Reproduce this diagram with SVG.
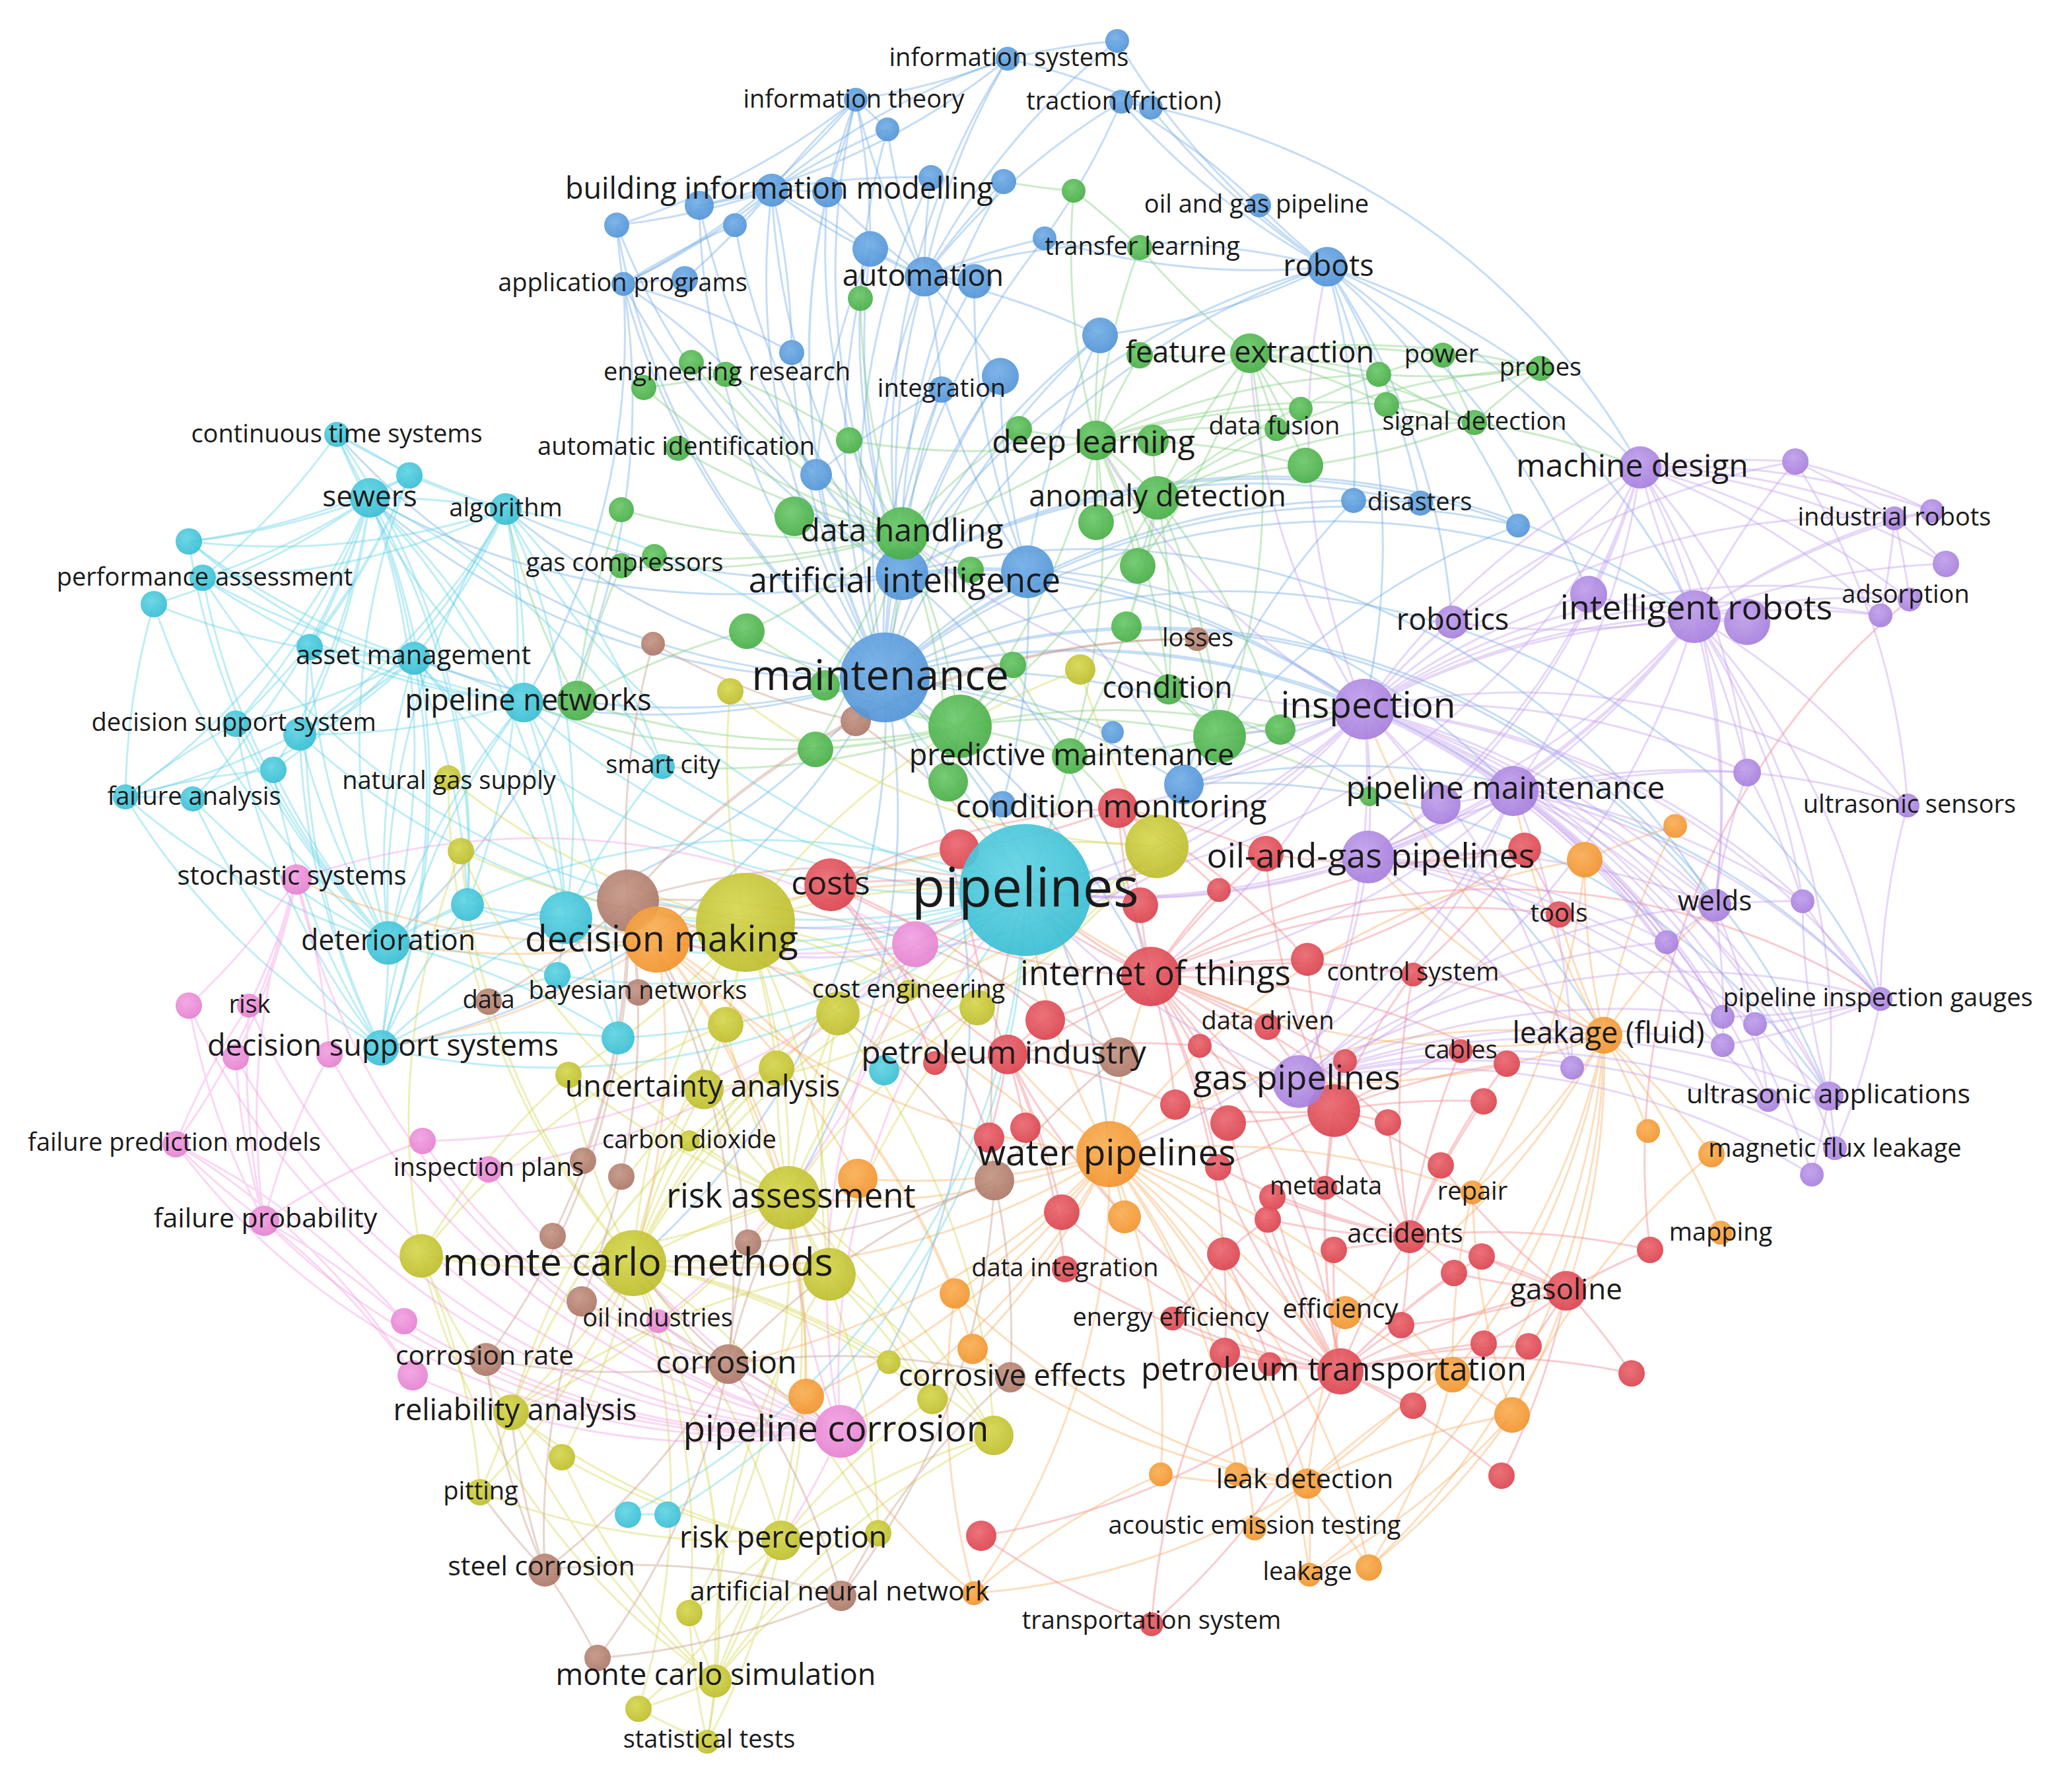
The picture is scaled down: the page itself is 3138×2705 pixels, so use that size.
<svg xmlns="http://www.w3.org/2000/svg" width="3138" height="2705" viewBox="0 0 3138 2705">
<defs>
<radialGradient id="gB" cx=".42" cy=".38" r=".68"><stop offset="0" stop-color="#74aee6"/><stop offset="1" stop-color="#4f92d6"/></radialGradient>
<radialGradient id="gG" cx=".42" cy=".38" r=".68"><stop offset="0" stop-color="#6cc86a"/><stop offset="1" stop-color="#45ac43"/></radialGradient>
<radialGradient id="gC" cx=".42" cy=".38" r=".68"><stop offset="0" stop-color="#62d4e4"/><stop offset="1" stop-color="#36bcd2"/></radialGradient>
<radialGradient id="gY" cx=".42" cy=".38" r=".68"><stop offset="0" stop-color="#d6d650"/><stop offset="1" stop-color="#bcbc2a"/></radialGradient>
<radialGradient id="gR" cx=".42" cy=".38" r=".68"><stop offset="0" stop-color="#ea6870"/><stop offset="1" stop-color="#d9404b"/></radialGradient>
<radialGradient id="gO" cx=".42" cy=".38" r=".68"><stop offset="0" stop-color="#f8b056"/><stop offset="1" stop-color="#f2912a"/></radialGradient>
<radialGradient id="gP" cx=".42" cy=".38" r=".68"><stop offset="0" stop-color="#c0a0ea"/><stop offset="1" stop-color="#a47cdc"/></radialGradient>
<radialGradient id="gN" cx=".42" cy=".38" r=".68"><stop offset="0" stop-color="#c49686"/><stop offset="1" stop-color="#aa7565"/></radialGradient>
<radialGradient id="gK" cx=".42" cy=".38" r=".68"><stop offset="0" stop-color="#f2a2e2"/><stop offset="1" stop-color="#e47ecf"/></radialGradient>
</defs>
<style>
#connectors path{fill:none;stroke-width:3;stroke-opacity:.4}
.eB path{stroke:#6fa9e6}.eG path{stroke:#7ccd78}.eC path{stroke:#5fd2e6}.eY path{stroke:#d4d450}.eR path{stroke:#ef7f86}.eO path{stroke:#f8ac5c}.eP path{stroke:#c09cee}.eN path{stroke:#c49684}.eK path{stroke:#f29be0}
circle{fill-opacity:.92}
.B{fill:url(#gB)}.G{fill:url(#gG)}.C{fill:url(#gC)}.Y{fill:url(#gY)}.R{fill:url(#gR)}.O{fill:url(#gO)}.P{fill:url(#gP)}.N{fill:url(#gN)}.K{fill:url(#gK)}
text{font-family:"Open Sans","Noto Sans","Liberation Sans",sans-serif;fill:#1a1a1a;text-anchor:middle}
</style>
<rect width="3138" height="2705" fill="#ffffff"/>
<g id="connectors">
<g class="eB">
<path d="M1340 1026A1100 1100 0 0 1 1169 288M1340 1026A1100 1100 0 0 1 1253 291M1340 1026A1100 1100 0 0 1 1059 311M1340 1026A1100 1100 0 0 1 944 430M1340 1026A1100 1100 0 0 1 1318 377M1340 1026A1100 1100 0 0 1 1400 419M1340 1026A1100 1100 0 0 1 1476 426M1340 1026A1100 1100 0 0 1 2010 404M1340 1026A1100 1100 0 0 1 1666 508M1340 1026A1100 1100 0 0 1 1199 534M1340 1026A1100 1100 0 0 1 1426 590M1340 1026A1100 1100 0 0 1 1515 570M1340 1026A1100 1100 0 0 1 1236 719M1340 1026A1100 1100 0 0 1 1366 869M1340 1026A1100 1100 0 0 1 1556 866M1340 1026A1100 1100 0 0 1 1793 1188M1340 1026A1100 1100 0 0 1 2050 758M1340 1026A1100 1100 0 0 1 2299 796M1340 1026A1100 1100 0 0 1 1296 151M1340 1026A1100 1100 0 0 1 1410 269M1340 1026A1100 1100 0 0 1 1582 361M1340 1026A1100 1100 0 0 1 934 341M1340 1026A1100 1100 0 0 1 560 754M1340 1026A1100 1100 0 0 1 627 997M1340 1026A1100 1100 0 0 1 793 1064M1340 1026A1100 1100 0 0 1 2066 1074M1340 1026A1100 1100 0 0 1 2292 1198M1340 1026A1100 1100 0 0 1 2566 934M1340 1026A1100 1100 0 0 1 588 1428M1340 1026A1100 1100 0 0 1 577 1587M1340 1026A1100 1100 0 0 1 959 1913M1340 1026A1100 1100 0 0 1 1680 1748M1340 1026A1100 1100 0 0 1 1743 1479M1340 1026A1100 1100 0 0 1 1273 2168M1340 1026A1100 1100 0 0 1 1194 1814M1340 1026A1100 1100 0 0 1 1518 1218M1340 1026A1100 1100 0 0 1 1685 1109M1340 1026A1100 1100 0 0 1 2151 762M1340 1026A1100 1100 0 0 1 510 658M1340 1026A1100 1100 0 0 1 766 771M1340 1026A1100 1100 0 0 1 2848 1513M1340 1026A1100 1100 0 0 1 2770 1660M1340 1026A1100 1100 0 0 1 2429 1568M1340 1026A1100 1100 0 0 1 2597 1371"/>
<path d="M1366 869A1100 1100 0 0 1 1169 288M1366 869A1100 1100 0 0 1 1253 291M1366 869A1100 1100 0 0 1 1400 419M1366 869A1100 1100 0 0 1 1318 377M1366 869A1100 1100 0 0 1 2010 404M1366 869A1100 1100 0 0 1 944 430M1366 869A1100 1100 0 0 1 1059 311M1366 869A1100 1100 0 0 1 1113 341M1366 869A1100 1100 0 0 1 934 341M1366 869A1100 1100 0 0 1 1426 590M1366 869A1100 1100 0 0 1 1515 570M1366 869A1100 1100 0 0 1 1666 508M1366 869A1100 1100 0 0 1 1236 719M1366 869A1100 1100 0 0 1 1556 866M1366 869A1100 1100 0 0 1 1526 89M1366 869A1100 1100 0 0 1 1296 151M1366 869A1100 1100 0 0 1 1344 196M1366 869A1100 1100 0 0 1 1520 275M1366 869A1100 1100 0 0 1 560 754M1366 869A1100 1100 0 0 1 766 771M1366 869A1100 1100 0 0 1 2066 1074M1366 869A1100 1100 0 0 1 2566 934M1366 869A1100 1100 0 0 1 1743 1479M1366 869A1100 1100 0 0 1 2151 762M1366 869A1100 1100 0 0 1 2299 796M1366 869A1100 1100 0 0 1 2597 1371M1366 869A1100 1100 0 0 1 2292 1198"/>
<path d="M1400 419A1100 1100 0 0 1 1169 288M1400 419A1100 1100 0 0 1 1253 291M1400 419A1100 1100 0 0 1 1318 377M1400 419A1100 1100 0 0 1 1476 426M1400 419A1100 1100 0 0 1 2010 404M1400 419A1100 1100 0 0 1 1296 151M1400 419A1100 1100 0 0 1 1344 196M1400 419A1100 1100 0 0 1 1410 269M1400 419A1100 1100 0 0 1 1520 275M1400 419A1100 1100 0 0 1 1526 89M1400 419A1100 1100 0 0 1 1698 154M1400 419A1100 1100 0 0 1 1666 508M1400 419A1100 1100 0 0 1 1426 590M1400 419A1100 1100 0 0 1 1515 570M1400 419A1100 1100 0 0 1 1582 361M1400 419A1100 1100 0 0 1 1692 62"/>
<path d="M1169 288A1100 1100 0 0 1 1253 291M1169 288A1100 1100 0 0 1 1059 311M1169 288A1100 1100 0 0 1 934 341M1169 288A1100 1100 0 0 1 1113 341M1169 288A1100 1100 0 0 1 944 430M1169 288A1100 1100 0 0 1 1037 423M1169 288A1100 1100 0 0 1 1296 151M1169 288A1100 1100 0 0 1 1344 196M1169 288A1100 1100 0 0 1 1526 89M1169 288A1100 1100 0 0 1 1410 269M1169 288A1100 1100 0 0 1 1318 377M1169 288A1100 1100 0 0 1 1199 534"/>
<path d="M2010 404A1100 1100 0 0 1 1907 311M2010 404A1100 1100 0 0 1 1698 154M2010 404A1100 1100 0 0 1 1743 163M2010 404A1100 1100 0 0 1 1692 62M2010 404A1100 1100 0 0 1 1582 361M2010 404A1100 1100 0 0 1 1666 508M2010 404A1100 1100 0 0 1 2484 708M2010 404A1100 1100 0 0 1 2566 934M2010 404A1100 1100 0 0 1 2406 900M2010 404A1100 1100 0 0 1 2199 942M2010 404A1100 1100 0 0 1 2066 1074M2010 404A1100 1100 0 0 1 2299 796M2010 404A1100 1100 0 0 1 2050 758M2010 404A1100 1100 0 0 1 2151 762"/>
<path d="M1526 89A1100 1100 0 0 1 1692 62M1526 89A1100 1100 0 0 1 1743 163M1526 89A1100 1100 0 0 1 1296 151M1526 89A1100 1100 0 0 1 1059 311M1296 151A1100 1100 0 0 1 1344 196M1296 151A1100 1100 0 0 1 934 341M1296 151A1100 1100 0 0 1 944 430M1296 151A1100 1100 0 0 1 1253 291M1296 151A1100 1100 0 0 1 1318 377M1698 154A1100 1100 0 0 1 1743 163M1698 154A1100 1100 0 0 1 1907 311M1698 154A1100 1100 0 0 1 1582 361M1698 154A1100 1100 0 0 1 2484 708"/>
<path d="M1556 866A1100 1100 0 0 1 1666 508M1556 866A1100 1100 0 0 1 1426 590M1556 866A1100 1100 0 0 1 1515 570M1556 866A1100 1100 0 0 1 1476 426M1556 866A1100 1100 0 0 1 1793 1188M1556 866A1100 1100 0 0 1 2066 1074M1556 866A1100 1100 0 0 1 1518 1218M944 430A1100 1100 0 0 1 934 341M944 430A1100 1100 0 0 1 1113 341M944 430A1100 1100 0 0 1 1037 423M944 430A1100 1100 0 0 1 1199 534M944 430A1100 1100 0 0 1 1236 719M944 430A1100 1100 0 0 1 793 1064M944 430A1100 1100 0 0 1 588 1428M1236 719A1100 1100 0 0 1 1426 590M1236 719A1100 1100 0 0 1 1318 377M1793 1188A1100 1100 0 0 1 2066 1074M1793 1188A1100 1100 0 0 1 2050 758M1793 1188A1100 1100 0 0 1 2299 796M1793 1188A1100 1100 0 0 1 2770 1660M1793 1188A1100 1100 0 0 1 2848 1513"/>
</g>
<g class="eG">
<path d="M1660 667A1100 1100 0 0 1 1726 375M1660 667A1100 1100 0 0 1 1893 535M1660 667A1100 1100 0 0 1 1726 538M1660 667A1100 1100 0 0 1 1626 289M1660 667A1100 1100 0 0 1 1977 705M1660 667A1100 1100 0 0 1 1933 650M1660 667A1100 1100 0 0 1 1970 619M1660 667A1100 1100 0 0 1 1746 667M1660 667A1100 1100 0 0 1 1753 754M1660 667A1100 1100 0 0 1 1660 791M1660 667A1100 1100 0 0 1 1723 857M1660 667A1100 1100 0 0 1 1366 808M1660 667A1100 1100 0 0 1 1454 1100M1660 667A1100 1100 0 0 1 1847 1115M1660 667A1100 1100 0 0 1 1620 1145M1660 667A1100 1100 0 0 1 1543 650M1660 667A1100 1100 0 0 1 2100 613M1660 667A1100 1100 0 0 1 2088 567M1660 667A1100 1100 0 0 1 1770 1044M1660 667A1100 1100 0 0 1 1286 667M1660 667A1100 1100 0 0 1 1666 508"/>
<path d="M1753 754A1100 1100 0 0 1 1893 535M1753 754A1100 1100 0 0 1 2233 640M1753 754A1100 1100 0 0 1 1977 705M1753 754A1100 1100 0 0 1 1746 667M1753 754A1100 1100 0 0 1 1723 857M1753 754A1100 1100 0 0 1 1706 949M1753 754A1100 1100 0 0 1 1770 1044M1753 754A1100 1100 0 0 1 1847 1115M1753 754A1100 1100 0 0 1 1939 1105M1753 754A1100 1100 0 0 1 1620 1145M1753 754A1100 1100 0 0 1 1454 1100M1753 754A1100 1100 0 0 1 2333 558M1753 754A1100 1100 0 0 1 2185 538M1753 754A1100 1100 0 0 1 1660 791"/>
<path d="M1893 535A1100 1100 0 0 1 1726 375M1893 535A1100 1100 0 0 1 1726 538M1893 535A1100 1100 0 0 1 2088 567M1893 535A1100 1100 0 0 1 2185 538M1893 535A1100 1100 0 0 1 2333 558M1893 535A1100 1100 0 0 1 2100 613M1893 535A1100 1100 0 0 1 1970 619M1893 535A1100 1100 0 0 1 1933 650M1893 535A1100 1100 0 0 1 1977 705M1893 535A1100 1100 0 0 1 2233 640M1893 535A1100 1100 0 0 1 1723 857M1893 535A1100 1100 0 0 1 1847 1115"/>
<path d="M1366 808A1100 1100 0 0 1 1203 782M1366 808A1100 1100 0 0 1 1286 667M1366 808A1100 1100 0 0 1 1303 452M1366 808A1100 1100 0 0 1 1470 863M1366 808A1100 1100 0 0 1 1131 956M1366 808A1100 1100 0 0 1 1249 1038M1366 808A1100 1100 0 0 1 1454 1100M1366 808A1100 1100 0 0 1 1436 1184M1366 808A1100 1100 0 0 1 1235 1135M1366 808A1100 1100 0 0 1 1027 679M1366 808A1100 1100 0 0 1 941 772M1366 808A1100 1100 0 0 1 941 857M1366 808A1100 1100 0 0 1 991 843M1366 808A1100 1100 0 0 1 975 587M1366 808A1100 1100 0 0 1 1047 549M1366 808A1100 1100 0 0 1 1099 567M1366 808A1100 1100 0 0 1 1543 650M1366 808A1100 1100 0 0 1 1340 1026M1366 808A1100 1100 0 0 1 1534 1007"/>
<path d="M1454 1100A1100 1100 0 0 1 1620 1145M1454 1100A1100 1100 0 0 1 1436 1184M1454 1100A1100 1100 0 0 1 1235 1135M1454 1100A1100 1100 0 0 1 1249 1038M1454 1100A1100 1100 0 0 1 1534 1007M1454 1100A1100 1100 0 0 1 1847 1115M1454 1100A1100 1100 0 0 1 1939 1105M1454 1100A1100 1100 0 0 1 1131 956M1454 1100A1100 1100 0 0 1 874 1061M1454 1100A1100 1100 0 0 1 1003 1161M1454 1100A1100 1100 0 0 1 793 1064"/>
<path d="M2233 640A1100 1100 0 0 1 2088 567M2233 640A1100 1100 0 0 1 2185 538M2233 640A1100 1100 0 0 1 2333 558M2233 640A1100 1100 0 0 1 2100 613M2233 640A1100 1100 0 0 1 1977 705M2233 640A1100 1100 0 0 1 2484 708M2333 558A1100 1100 0 0 1 2185 538M2333 558A1100 1100 0 0 1 2088 567M2333 558A1100 1100 0 0 1 2100 613M1847 1115A1100 1100 0 0 1 1939 1105M1847 1115A1100 1100 0 0 1 1706 949M1847 1115A1100 1100 0 0 1 1770 1044M1847 1115A1100 1100 0 0 1 1620 1145M1847 1115A1100 1100 0 0 1 2074 1206M1847 1115A1100 1100 0 0 1 2066 1074"/>
<path d="M874 1061A1100 1100 0 0 1 941 772M874 1061A1100 1100 0 0 1 941 857M874 1061A1100 1100 0 0 1 1131 956M874 1061A1100 1100 0 0 1 793 1064M874 1061A1100 1100 0 0 1 766 771M1626 289A1100 1100 0 0 1 1726 375M1626 289A1100 1100 0 0 1 1520 275M1099 567A1100 1100 0 0 1 1047 549M1099 567A1100 1100 0 0 1 975 587M1099 567A1100 1100 0 0 1 1286 667M1620 1145A1100 1100 0 0 1 1693 1224M1620 1145A1100 1100 0 0 1 1534 1007M1620 1145A1100 1100 0 0 1 1553 1348"/>
</g>
<g class="eC">
<path d="M560 754A1100 1100 0 0 1 510 658M560 754A1100 1100 0 0 1 620 720M560 754A1100 1100 0 0 1 766 771M560 754A1100 1100 0 0 1 286 820M560 754A1100 1100 0 0 1 307 875M560 754A1100 1100 0 0 1 233 915M560 754A1100 1100 0 0 1 469 980M560 754A1100 1100 0 0 1 627 997M560 754A1100 1100 0 0 1 793 1064M560 754A1100 1100 0 0 1 357 1096M560 754A1100 1100 0 0 1 454 1112M560 754A1100 1100 0 0 1 414 1166M560 754A1100 1100 0 0 1 190 1207M560 754A1100 1100 0 0 1 292 1210M560 754A1100 1100 0 0 1 708 1370M560 754A1100 1100 0 0 1 857 1390M560 754A1100 1100 0 0 1 588 1428M560 754A1100 1100 0 0 1 577 1587M560 754A1100 1100 0 0 1 1003 1161M560 754A1100 1100 0 0 1 1553 1348"/>
<path d="M588 1428A1100 1100 0 0 1 286 820M588 1428A1100 1100 0 0 1 233 915M588 1428A1100 1100 0 0 1 469 980M588 1428A1100 1100 0 0 1 627 997M588 1428A1100 1100 0 0 1 357 1096M588 1428A1100 1100 0 0 1 454 1112M588 1428A1100 1100 0 0 1 414 1166M588 1428A1100 1100 0 0 1 190 1207M588 1428A1100 1100 0 0 1 292 1210M588 1428A1100 1100 0 0 1 708 1370M588 1428A1100 1100 0 0 1 857 1390M588 1428A1100 1100 0 0 1 844 1477M588 1428A1100 1100 0 0 1 577 1587M588 1428A1100 1100 0 0 1 936 1572M588 1428A1100 1100 0 0 1 766 771M588 1428A1100 1100 0 0 1 620 720M588 1428A1100 1100 0 0 1 1553 1348M588 1428A1100 1100 0 0 1 793 1064M588 1428A1100 1100 0 0 1 307 875"/>
<path d="M1553 1348A1100 1100 0 0 1 766 771M1553 1348A1100 1100 0 0 1 627 997M1553 1348A1100 1100 0 0 1 793 1064M1553 1348A1100 1100 0 0 1 1003 1161M1553 1348A1100 1100 0 0 1 708 1370M1553 1348A1100 1100 0 0 1 857 1390M1553 1348A1100 1100 0 0 1 844 1477M1553 1348A1100 1100 0 0 1 577 1587M1553 1348A1100 1100 0 0 1 936 1572M1553 1348A1100 1100 0 0 1 1339 1621M1553 1348A1100 1100 0 0 1 951 2294M1553 1348A1100 1100 0 0 1 1011 2294M1553 1348A1100 1100 0 0 1 454 1112M1553 1348A1100 1100 0 0 1 510 658M1553 1348A1100 1100 0 0 1 307 875"/>
<path d="M766 771A1100 1100 0 0 1 510 658M766 771A1100 1100 0 0 1 620 720M766 771A1100 1100 0 0 1 286 820M766 771A1100 1100 0 0 1 307 875M766 771A1100 1100 0 0 1 627 997M766 771A1100 1100 0 0 1 793 1064M766 771A1100 1100 0 0 1 454 1112M766 771A1100 1100 0 0 1 857 1390M766 771A1100 1100 0 0 1 708 1370M766 771A1100 1100 0 0 1 1003 1161M766 771A1100 1100 0 0 1 414 1166"/>
<path d="M627 997A1100 1100 0 0 1 286 820M627 997A1100 1100 0 0 1 307 875M627 997A1100 1100 0 0 1 233 915M627 997A1100 1100 0 0 1 469 980M627 997A1100 1100 0 0 1 793 1064M627 997A1100 1100 0 0 1 357 1096M627 997A1100 1100 0 0 1 454 1112M627 997A1100 1100 0 0 1 190 1207M627 997A1100 1100 0 0 1 292 1210M627 997A1100 1100 0 0 1 708 1370M627 997A1100 1100 0 0 1 857 1390M627 997A1100 1100 0 0 1 577 1587"/>
<path d="M577 1587A1100 1100 0 0 1 469 980M577 1587A1100 1100 0 0 1 454 1112M577 1587A1100 1100 0 0 1 414 1166M577 1587A1100 1100 0 0 1 292 1210M577 1587A1100 1100 0 0 1 708 1370M577 1587A1100 1100 0 0 1 857 1390M577 1587A1100 1100 0 0 1 844 1477M577 1587A1100 1100 0 0 1 936 1572M577 1587A1100 1100 0 0 1 793 1064M577 1587A1100 1100 0 0 1 190 1207M577 1587A1100 1100 0 0 1 357 1096"/>
<path d="M793 1064A1100 1100 0 0 1 286 820M793 1064A1100 1100 0 0 1 307 875M793 1064A1100 1100 0 0 1 469 980M793 1064A1100 1100 0 0 1 454 1112M793 1064A1100 1100 0 0 1 1003 1161M793 1064A1100 1100 0 0 1 857 1390M793 1064A1100 1100 0 0 1 936 1572M510 658A1100 1100 0 0 1 620 720M510 658A1100 1100 0 0 1 307 875M510 658A1100 1100 0 0 1 708 1370M190 1207A1100 1100 0 0 1 292 1210M190 1207A1100 1100 0 0 1 357 1096M190 1207A1100 1100 0 0 1 414 1166M190 1207A1100 1100 0 0 1 233 915M857 1390A1100 1100 0 0 1 1003 1161M857 1390A1100 1100 0 0 1 844 1477M857 1390A1100 1100 0 0 1 936 1572M857 1390A1100 1100 0 0 1 708 1370M951 2294A1100 1100 0 0 1 1011 2294M620 720A1100 1100 0 0 1 286 820M620 720A1100 1100 0 0 1 469 980M620 720A1100 1100 0 0 1 357 1096"/>
</g>
<g class="eY">
<path d="M959 1913A1100 1100 0 0 1 638 1902M959 1913A1100 1100 0 0 1 1194 1814M959 1913A1100 1100 0 0 1 1256 1930M959 1913A1100 1100 0 0 1 774 2139M959 1913A1100 1100 0 0 1 851 2207M959 1913A1100 1100 0 0 1 727 2260M959 1913A1100 1100 0 0 1 1183 2333M959 1913A1100 1100 0 0 1 1044 2443M959 1913A1100 1100 0 0 1 1083 2546M959 1913A1100 1100 0 0 1 967 2588M959 1913A1100 1100 0 0 1 1071 2638M959 1913A1100 1100 0 0 1 1066 1650M959 1913A1100 1100 0 0 1 1176 1618M959 1913A1100 1100 0 0 1 1099 1552M959 1913A1100 1100 0 0 1 1269 1535M959 1913A1100 1100 0 0 1 1129 1397M959 1913A1100 1100 0 0 1 861 1628M959 1913A1100 1100 0 0 1 1412 2119M959 1913A1100 1100 0 0 1 1505 2174M959 1913A1100 1100 0 0 1 1330 2322M959 1913A1100 1100 0 0 1 1346 2063M959 1913A1100 1100 0 0 1 1044 1728M959 1913A1100 1100 0 0 1 1376 1500M959 1913A1100 1100 0 0 1 698 1289M959 1913A1100 1100 0 0 1 679 1178M959 1913A1100 1100 0 0 1 1553 1348"/>
<path d="M1129 1397A1100 1100 0 0 1 679 1178M1129 1397A1100 1100 0 0 1 698 1289M1129 1397A1100 1100 0 0 1 1106 1047M1129 1397A1100 1100 0 0 1 1269 1535M1129 1397A1100 1100 0 0 1 1480 1526M1129 1397A1100 1100 0 0 1 1099 1552M1129 1397A1100 1100 0 0 1 1176 1618M1129 1397A1100 1100 0 0 1 861 1628M1129 1397A1100 1100 0 0 1 1066 1650M1129 1397A1100 1100 0 0 1 1194 1814M1129 1397A1100 1100 0 0 1 1752 1282M1129 1397A1100 1100 0 0 1 1636 1014M1129 1397A1100 1100 0 0 1 1553 1348M1129 1397A1100 1100 0 0 1 1376 1500M1129 1397A1100 1100 0 0 1 1256 1930M1129 1397A1100 1100 0 0 1 1505 2174"/>
<path d="M1194 1814A1100 1100 0 0 1 1269 1535M1194 1814A1100 1100 0 0 1 1099 1552M1194 1814A1100 1100 0 0 1 1176 1618M1194 1814A1100 1100 0 0 1 1066 1650M1194 1814A1100 1100 0 0 1 1044 1728M1194 1814A1100 1100 0 0 1 638 1902M1194 1814A1100 1100 0 0 1 1256 1930M1194 1814A1100 1100 0 0 1 1412 2119M1194 1814A1100 1100 0 0 1 1505 2174M1194 1814A1100 1100 0 0 1 774 2139M1194 1814A1100 1100 0 0 1 1183 2333M1194 1814A1100 1100 0 0 1 1330 2322M1194 1814A1100 1100 0 0 1 1044 2443M1194 1814A1100 1100 0 0 1 1083 2546M1194 1814A1100 1100 0 0 1 861 1628M1194 1814A1100 1100 0 0 1 1480 1526M1194 1814A1100 1100 0 0 1 698 1289M1194 1814A1100 1100 0 0 1 1553 1348"/>
<path d="M1083 2546A1100 1100 0 0 1 1044 2443M1083 2546A1100 1100 0 0 1 967 2588M1083 2546A1100 1100 0 0 1 1071 2638M1083 2546A1100 1100 0 0 1 1183 2333M1083 2546A1100 1100 0 0 1 1330 2322M1083 2546A1100 1100 0 0 1 774 2139M1083 2546A1100 1100 0 0 1 851 2207M1083 2546A1100 1100 0 0 1 1505 2174M1083 2546A1100 1100 0 0 1 1256 1930M1083 2546A1100 1100 0 0 1 638 1902M1183 2333A1100 1100 0 0 1 1330 2322M1183 2333A1100 1100 0 0 1 1044 2443M1183 2333A1100 1100 0 0 1 967 2588M1183 2333A1100 1100 0 0 1 1071 2638M1183 2333A1100 1100 0 0 1 774 2139M1183 2333A1100 1100 0 0 1 1412 2119M1183 2333A1100 1100 0 0 1 1505 2174M1183 2333A1100 1100 0 0 1 851 2207M1183 2333A1100 1100 0 0 1 727 2260"/>
<path d="M1752 1282A1100 1100 0 0 1 1636 1014M1752 1282A1100 1100 0 0 1 1480 1526M1752 1282A1100 1100 0 0 1 1106 1047M1752 1282A1100 1100 0 0 1 1376 1500M1752 1282A1100 1100 0 0 1 1066 1650M774 2139A1100 1100 0 0 1 851 2207M774 2139A1100 1100 0 0 1 727 2260M774 2139A1100 1100 0 0 1 638 1902M774 2139A1100 1100 0 0 1 1256 1930M774 2139A1100 1100 0 0 1 1044 1728M774 2139A1100 1100 0 0 1 1066 1650M774 2139A1100 1100 0 0 1 1176 1618M638 1902A1100 1100 0 0 1 727 2260M638 1902A1100 1100 0 0 1 861 1628M638 1902A1100 1100 0 0 1 1099 1552M638 1902A1100 1100 0 0 1 698 1289M1071 2638A1100 1100 0 0 1 967 2588M1071 2638A1100 1100 0 0 1 1044 2443M1256 1930A1100 1100 0 0 1 1412 2119M1256 1930A1100 1100 0 0 1 1505 2174M1256 1930A1100 1100 0 0 1 1269 1535M1256 1930A1100 1100 0 0 1 1480 1526"/>
</g>
<g class="eR">
<path d="M1743 1479A1100 1100 0 0 1 1693 1224M1743 1479A1100 1100 0 0 1 1917 1293M1743 1479A1100 1100 0 0 1 1846 1348M1743 1479A1100 1100 0 0 1 1727 1371M1743 1479A1100 1100 0 0 1 1980 1453M1743 1479A1100 1100 0 0 1 2140 1476M1743 1479A1100 1100 0 0 1 1583 1545M1743 1479A1100 1100 0 0 1 1920 1555M1743 1479A1100 1100 0 0 1 1817 1584M1743 1479A1100 1100 0 0 1 1526 1597M1743 1479A1100 1100 0 0 1 2037 1607M1743 1479A1100 1100 0 0 1 2020 1682M1743 1479A1100 1100 0 0 1 1780 1673M1743 1479A1100 1100 0 0 1 1860 1701M1743 1479A1100 1100 0 0 1 2102 1700M1743 1479A1100 1100 0 0 1 1845 1768M1743 1479A1100 1100 0 0 1 2282 1611M1743 1479A1100 1100 0 0 1 2007 1799M1743 1479A1100 1100 0 0 1 1853 1899M1743 1479A1100 1100 0 0 1 2030 2077M1743 1479A1100 1100 0 0 1 2309 1286M1743 1479A1100 1100 0 0 1 2361 1385M1743 1479A1100 1100 0 0 1 1453 1286M1743 1479A1100 1100 0 0 1 1258 1340M1743 1479A1100 1100 0 0 1 1553 1348M1743 1479A1100 1100 0 0 1 2429 1568M1743 1479A1100 1100 0 0 1 2848 1513"/>
<path d="M2030 2077A1100 1100 0 0 1 1853 1899M2030 2077A1100 1100 0 0 1 2020 1893M2030 2077A1100 1100 0 0 1 2135 1873M2030 2077A1100 1100 0 0 1 2244 1903M2030 2077A1100 1100 0 0 1 2202 1928M2030 2077A1100 1100 0 0 1 1776 1997M2030 2077A1100 1100 0 0 1 2122 2007M2030 2077A1100 1100 0 0 1 1855 2049M2030 2077A1100 1100 0 0 1 1923 2066M2030 2077A1100 1100 0 0 1 2247 2035M2030 2077A1100 1100 0 0 1 2315 2039M2030 2077A1100 1100 0 0 1 2140 2129M2030 2077A1100 1100 0 0 1 2274 2235M2030 2077A1100 1100 0 0 1 1486 2326M2030 2077A1100 1100 0 0 1 1744 2460M2030 2077A1100 1100 0 0 1 2020 1682M2030 2077A1100 1100 0 0 1 1860 1701M2030 2077A1100 1100 0 0 1 1845 1768M2030 2077A1100 1100 0 0 1 2007 1799M2030 2077A1100 1100 0 0 1 1927 1813M2030 2077A1100 1100 0 0 1 1920 1847M2030 2077A1100 1100 0 0 1 1613 1922M2030 2077A1100 1100 0 0 1 1608 1836M2030 2077A1100 1100 0 0 1 2471 2080M2030 2077A1100 1100 0 0 1 2372 1955M2030 2077A1100 1100 0 0 1 1526 1597"/>
<path d="M2135 1873A1100 1100 0 0 1 2102 1700M2135 1873A1100 1100 0 0 1 1845 1768M2135 1873A1100 1100 0 0 1 2247 1668M2135 1873A1100 1100 0 0 1 2182 1765M2135 1873A1100 1100 0 0 1 2007 1799M2135 1873A1100 1100 0 0 1 1927 1813M2135 1873A1100 1100 0 0 1 1920 1847M2135 1873A1100 1100 0 0 1 2020 1893M2135 1873A1100 1100 0 0 1 2244 1903M2135 1873A1100 1100 0 0 1 2202 1928M2135 1873A1100 1100 0 0 1 2372 1955M2135 1873A1100 1100 0 0 1 2122 2007M2135 1873A1100 1100 0 0 1 2020 1682M2135 1873A1100 1100 0 0 1 2282 1611M2135 1873A1100 1100 0 0 1 2212 1592M2135 1873A1100 1100 0 0 1 2140 1476M2135 1873A1100 1100 0 0 1 2499 1893"/>
<path d="M2372 1955A1100 1100 0 0 1 2244 1903M2372 1955A1100 1100 0 0 1 2202 1928M2372 1955A1100 1100 0 0 1 2499 1893M2372 1955A1100 1100 0 0 1 2247 2035M2372 1955A1100 1100 0 0 1 2315 2039M2372 1955A1100 1100 0 0 1 2471 2080M2372 1955A1100 1100 0 0 1 2274 2235M2372 1955A1100 1100 0 0 1 2122 2007M2372 1955A1100 1100 0 0 1 2182 1765M2499 1893A1100 1100 0 0 1 2892 908"/>
<path d="M2020 1682A1100 1100 0 0 1 1920 1555M2020 1682A1100 1100 0 0 1 1817 1584M2020 1682A1100 1100 0 0 1 2037 1607M2020 1682A1100 1100 0 0 1 1780 1673M2020 1682A1100 1100 0 0 1 1860 1701M2020 1682A1100 1100 0 0 1 2102 1700M2020 1682A1100 1100 0 0 1 2212 1592M2020 1682A1100 1100 0 0 1 2282 1611M2020 1682A1100 1100 0 0 1 2247 1668M2020 1682A1100 1100 0 0 1 2182 1765M2020 1682A1100 1100 0 0 1 2007 1799M2020 1682A1100 1100 0 0 1 2140 1476M2020 1682A1100 1100 0 0 1 1980 1453M2020 1682A1100 1100 0 0 1 1917 1293M2020 1682A1100 1100 0 0 1 1845 1768"/>
<path d="M1526 1597A1100 1100 0 0 1 1583 1545M1526 1597A1100 1100 0 0 1 1416 1610M1526 1597A1100 1100 0 0 1 1498 1723M1526 1597A1100 1100 0 0 1 1553 1708M1526 1597A1100 1100 0 0 1 1608 1836M1526 1597A1100 1100 0 0 1 1613 1922M1526 1597A1100 1100 0 0 1 1453 1286M1526 1597A1100 1100 0 0 1 1258 1340M1526 1597A1100 1100 0 0 1 1780 1673M1526 1597A1100 1100 0 0 1 1817 1584M1258 1340A1100 1100 0 0 1 1453 1286M1258 1340A1100 1100 0 0 1 1583 1545M1258 1340A1100 1100 0 0 1 1416 1610M1258 1340A1100 1100 0 0 1 1693 1224M1258 1340A1100 1100 0 0 1 1553 1348M1258 1340A1100 1100 0 0 1 1498 1723"/>
<path d="M1693 1224A1100 1100 0 0 1 1917 1293M1693 1224A1100 1100 0 0 1 1846 1348M1693 1224A1100 1100 0 0 1 1727 1371M1693 1224A1100 1100 0 0 1 1453 1286M1693 1224A1100 1100 0 0 1 1980 1453M2309 1286A1100 1100 0 0 1 2361 1385M2309 1286A1100 1100 0 0 1 2140 1476M2309 1286A1100 1100 0 0 1 1980 1453M2309 1286A1100 1100 0 0 1 1917 1293M1744 2460A1100 1100 0 0 1 1486 2326M1744 2460A1100 1100 0 0 1 1855 2049M1853 1899A1100 1100 0 0 1 1855 2049M1853 1899A1100 1100 0 0 1 1923 2066M1853 1899A1100 1100 0 0 1 1776 1997M1853 1899A1100 1100 0 0 1 1920 1847"/>
</g>
<g class="eO">
<path d="M1680 1748A1100 1100 0 0 1 1299 1785M1680 1748A1100 1100 0 0 1 1703 1843M1680 1748A1100 1100 0 0 1 1446 1959M1680 1748A1100 1100 0 0 1 1473 2043M1680 1748A1100 1100 0 0 1 2037 1988M1680 1748A1100 1100 0 0 1 1758 2233M1680 1748A1100 1100 0 0 1 1873 2233M1680 1748A1100 1100 0 0 1 1980 2247M1680 1748A1100 1100 0 0 1 1900 2315M1680 1748A1100 1100 0 0 1 2429 1568M1680 1748A1100 1100 0 0 1 2400 1302M1680 1748A1100 1100 0 0 1 2200 2082M1680 1748A1100 1100 0 0 1 995 1423M1680 1748A1100 1100 0 0 1 1221 2115M1680 1748A1100 1100 0 0 1 1475 2413M1680 1748A1100 1100 0 0 1 1983 2385M1680 1748A1100 1100 0 0 1 2073 2374M1680 1748A1100 1100 0 0 1 2230 1806M1680 1748A1100 1100 0 0 1 1743 1479M1680 1748A1100 1100 0 0 1 2030 2077M1680 1748A1100 1100 0 0 1 1194 1814M1680 1748A1100 1100 0 0 1 959 1913M1680 1748A1100 1100 0 0 1 1273 2168M1680 1748A1100 1100 0 0 1 1103 2066M1680 1748A1100 1100 0 0 1 1553 1348M1680 1748A1100 1100 0 0 1 1526 1597"/>
<path d="M1980 2247A1100 1100 0 0 1 1758 2233M1980 2247A1100 1100 0 0 1 1873 2233M1980 2247A1100 1100 0 0 1 1900 2315M1980 2247A1100 1100 0 0 1 1983 2385M1980 2247A1100 1100 0 0 1 2073 2374M1980 2247A1100 1100 0 0 1 2037 1988M1980 2247A1100 1100 0 0 1 2200 2082M1980 2247A1100 1100 0 0 1 2290 2143M1980 2247A1100 1100 0 0 1 1475 2413M1980 2247A1100 1100 0 0 1 1446 1959M1980 2247A1100 1100 0 0 1 1473 2043"/>
<path d="M2429 1568A1100 1100 0 0 1 2400 1302M2429 1568A1100 1100 0 0 1 2537 1251M2429 1568A1100 1100 0 0 1 2496 1713M2429 1568A1100 1100 0 0 1 2592 1748M2429 1568A1100 1100 0 0 1 2230 1806M2429 1568A1100 1100 0 0 1 2200 2082M2429 1568A1100 1100 0 0 1 2290 2143M2429 1568A1100 1100 0 0 1 1983 2385M2429 1568A1100 1100 0 0 1 2073 2374M2429 1568A1100 1100 0 0 1 2606 1867M2429 1568A1100 1100 0 0 1 2037 1988M2429 1568A1100 1100 0 0 1 1980 2247M2429 1568A1100 1100 0 0 1 2066 1074M2429 1568A1100 1100 0 0 1 2292 1198M2429 1568A1100 1100 0 0 1 2072 1298M2429 1568A1100 1100 0 0 1 1967 1638M2429 1568A1100 1100 0 0 1 2361 1385M2429 1568A1100 1100 0 0 1 1553 1348M2429 1568A1100 1100 0 0 1 2597 1371"/>
<path d="M2290 2143A1100 1100 0 0 1 2200 2082M2290 2143A1100 1100 0 0 1 2230 1806M2290 2143A1100 1100 0 0 1 2073 2374M2290 2143A1100 1100 0 0 1 1983 2385M2290 2143A1100 1100 0 0 1 2592 1748M2400 1302A1100 1100 0 0 1 2537 1251M2400 1302A1100 1100 0 0 1 2230 1806M2200 2082A1100 1100 0 0 1 2037 1988M2200 2082A1100 1100 0 0 1 2073 2374M2200 2082A1100 1100 0 0 1 2230 1806M1475 2413A1100 1100 0 0 1 1758 2233M1475 2413A1100 1100 0 0 1 1446 1959M1475 2413A1100 1100 0 0 1 1221 2115"/>
<path d="M995 1423A1100 1100 0 0 1 1299 1785M995 1423A1100 1100 0 0 1 1446 1959M995 1423A1100 1100 0 0 1 1473 2043M995 1423A1100 1100 0 0 1 1221 2115M995 1423A1100 1100 0 0 1 1703 1843M995 1423A1100 1100 0 0 1 1129 1397M995 1423A1100 1100 0 0 1 1194 1814M995 1423A1100 1100 0 0 1 959 1913M995 1423A1100 1100 0 0 1 588 1428M995 1423A1100 1100 0 0 1 577 1587M995 1423A1100 1100 0 0 1 449 1332M995 1423A1100 1100 0 0 1 951 1364M995 1423A1100 1100 0 0 1 1553 1348M995 1423A1100 1100 0 0 1 857 1390"/>
</g>
<g class="eP">
<path d="M2066 1074A1100 1100 0 0 1 2484 708M2066 1074A1100 1100 0 0 1 2719 699M2066 1074A1100 1100 0 0 1 2406 900M2066 1074A1100 1100 0 0 1 2566 934M2066 1074A1100 1100 0 0 1 2646 942M2066 1074A1100 1100 0 0 1 2199 942M2066 1074A1100 1100 0 0 1 2646 1170M2066 1074A1100 1100 0 0 1 2292 1198M2066 1074A1100 1100 0 0 1 2182 1218M2066 1074A1100 1100 0 0 1 2072 1298M2066 1074A1100 1100 0 0 1 2597 1371M2066 1074A1100 1100 0 0 1 2730 1365M2066 1074A1100 1100 0 0 1 2524 1427M2066 1074A1100 1100 0 0 1 2848 1513M2066 1074A1100 1100 0 0 1 2609 1540M2066 1074A1100 1100 0 0 1 2658 1551M2066 1074A1100 1100 0 0 1 2609 1583M2066 1074A1100 1100 0 0 1 2381 1617M2066 1074A1100 1100 0 0 1 2678 1666M2066 1074A1100 1100 0 0 1 2770 1660M2066 1074A1100 1100 0 0 1 2779 1739M2066 1074A1100 1100 0 0 1 2744 1779M2066 1074A1100 1100 0 0 1 1967 1638M2066 1074A1100 1100 0 0 1 2889 1220M2066 1074A1100 1100 0 0 1 2869 785M2066 1074A1100 1100 0 0 1 2848 932M2066 1074A1100 1100 0 0 1 2892 908M2066 1074A1100 1100 0 0 1 1553 1348M2066 1074A1100 1100 0 0 1 1743 1479M2066 1074A1100 1100 0 0 1 1893 535M2066 1074A1100 1100 0 0 1 1660 667M2066 1074A1100 1100 0 0 1 1847 1115M2066 1074A1100 1100 0 0 1 2010 404M2066 1074A1100 1100 0 0 1 1793 1188M2066 1074A1100 1100 0 0 1 1693 1224M2066 1074A1100 1100 0 0 1 995 1423M2066 1074A1100 1100 0 0 1 1129 1397M2066 1074A1100 1100 0 0 1 1366 808"/>
<path d="M2566 934A1100 1100 0 0 1 2484 708M2566 934A1100 1100 0 0 1 2719 699M2566 934A1100 1100 0 0 1 2869 785M2566 934A1100 1100 0 0 1 2926 774M2566 934A1100 1100 0 0 1 2947 854M2566 934A1100 1100 0 0 1 2406 900M2566 934A1100 1100 0 0 1 2646 942M2566 934A1100 1100 0 0 1 2848 932M2566 934A1100 1100 0 0 1 2892 908M2566 934A1100 1100 0 0 1 2199 942M2566 934A1100 1100 0 0 1 2646 1170M2566 934A1100 1100 0 0 1 2889 1220M2566 934A1100 1100 0 0 1 2292 1198M2566 934A1100 1100 0 0 1 2182 1218M2566 934A1100 1100 0 0 1 2072 1298M2566 934A1100 1100 0 0 1 2597 1371M2566 934A1100 1100 0 0 1 2730 1365M2566 934A1100 1100 0 0 1 2848 1513M2566 934A1100 1100 0 0 1 2770 1660M2566 934A1100 1100 0 0 1 1967 1638M2566 934A1100 1100 0 0 1 1553 1348"/>
<path d="M2484 708A1100 1100 0 0 1 2719 699M2484 708A1100 1100 0 0 1 2869 785M2484 708A1100 1100 0 0 1 2926 774M2484 708A1100 1100 0 0 1 2406 900M2484 708A1100 1100 0 0 1 2646 942M2484 708A1100 1100 0 0 1 2848 932M2484 708A1100 1100 0 0 1 2892 908M2484 708A1100 1100 0 0 1 2199 942M2484 708A1100 1100 0 0 1 2646 1170M2484 708A1100 1100 0 0 1 2292 1198M2484 708A1100 1100 0 0 1 2182 1218M2484 708A1100 1100 0 0 1 2072 1298M2484 708A1100 1100 0 0 1 2597 1371M2484 708A1100 1100 0 0 1 2947 854M2484 708A1100 1100 0 0 1 1553 1348"/>
<path d="M2292 1198A1100 1100 0 0 1 2646 1170M2292 1198A1100 1100 0 0 1 2182 1218M2292 1198A1100 1100 0 0 1 2072 1298M2292 1198A1100 1100 0 0 1 2597 1371M2292 1198A1100 1100 0 0 1 2524 1427M2292 1198A1100 1100 0 0 1 2381 1617M2292 1198A1100 1100 0 0 1 1967 1638M2292 1198A1100 1100 0 0 1 2730 1365M2292 1198A1100 1100 0 0 1 2848 1513M2292 1198A1100 1100 0 0 1 2609 1540M2292 1198A1100 1100 0 0 1 2770 1660M2292 1198A1100 1100 0 0 1 2609 1583M2292 1198A1100 1100 0 0 1 1553 1348M2292 1198A1100 1100 0 0 1 1743 1479M2292 1198A1100 1100 0 0 1 1680 1748"/>
<path d="M2072 1298A1100 1100 0 0 1 2182 1218M2072 1298A1100 1100 0 0 1 2597 1371M2072 1298A1100 1100 0 0 1 2524 1427M2072 1298A1100 1100 0 0 1 2609 1540M2072 1298A1100 1100 0 0 1 2658 1551M2072 1298A1100 1100 0 0 1 2381 1617M2072 1298A1100 1100 0 0 1 1967 1638M2072 1298A1100 1100 0 0 1 2646 1170M2072 1298A1100 1100 0 0 1 2678 1666M2072 1298A1100 1100 0 0 1 1553 1348"/>
<path d="M1967 1638A1100 1100 0 0 1 2597 1371M1967 1638A1100 1100 0 0 1 2524 1427M1967 1638A1100 1100 0 0 1 2609 1540M1967 1638A1100 1100 0 0 1 2609 1583M1967 1638A1100 1100 0 0 1 2381 1617M1967 1638A1100 1100 0 0 1 2678 1666M1967 1638A1100 1100 0 0 1 2770 1660M1967 1638A1100 1100 0 0 1 2779 1739M1967 1638A1100 1100 0 0 1 2744 1779M1967 1638A1100 1100 0 0 1 2848 1513M1967 1638A1100 1100 0 0 1 1553 1348"/>
<path d="M2848 1513A1100 1100 0 0 1 2609 1540M2848 1513A1100 1100 0 0 1 2658 1551M2848 1513A1100 1100 0 0 1 2609 1583M2848 1513A1100 1100 0 0 1 2730 1365M2848 1513A1100 1100 0 0 1 2889 1220M2848 1513A1100 1100 0 0 1 2779 1739M2770 1660A1100 1100 0 0 1 2678 1666M2770 1660A1100 1100 0 0 1 2779 1739M2770 1660A1100 1100 0 0 1 2744 1779M2770 1660A1100 1100 0 0 1 2658 1551M2770 1660A1100 1100 0 0 1 2730 1365M2597 1371A1100 1100 0 0 1 2730 1365M2597 1371A1100 1100 0 0 1 2524 1427M2597 1371A1100 1100 0 0 1 2609 1583M2597 1371A1100 1100 0 0 1 2678 1666M2597 1371A1100 1100 0 0 1 2646 1170M2646 1170A1100 1100 0 0 1 2889 1220M2646 1170A1100 1100 0 0 1 2730 1365M2869 785A1100 1100 0 0 1 2926 774M2869 785A1100 1100 0 0 1 2947 854M2869 785A1100 1100 0 0 1 2848 932M2869 785A1100 1100 0 0 1 2892 908M2719 699A1100 1100 0 0 1 2869 785M2719 699A1100 1100 0 0 1 2926 774M2719 699A1100 1100 0 0 1 2889 1220"/>
</g>
<g class="eN">
<path d="M951 1364A1100 1100 0 0 1 989 975M951 1364A1100 1100 0 0 1 1296 1092M951 1364A1100 1100 0 0 1 740 1517M951 1364A1100 1100 0 0 1 967 1503M951 1364A1100 1100 0 0 1 883 1758M951 1364A1100 1100 0 0 1 941 1782M951 1364A1100 1100 0 0 1 837 1872M951 1364A1100 1100 0 0 1 881 1971M951 1364A1100 1100 0 0 1 1133 1882M951 1364A1100 1100 0 0 1 736 2059M951 1364A1100 1100 0 0 1 1103 2066M951 1364A1100 1100 0 0 1 1694 1601M951 1364A1100 1100 0 0 1 1506 1788M951 1364A1100 1100 0 0 1 1129 1397M951 1364A1100 1100 0 0 1 1553 1348M951 1364A1100 1100 0 0 1 1813 968"/>
<path d="M1103 2066A1100 1100 0 0 1 837 1872M1103 2066A1100 1100 0 0 1 881 1971M1103 2066A1100 1100 0 0 1 1133 1882M1103 2066A1100 1100 0 0 1 736 2059M1103 2066A1100 1100 0 0 1 1530 2086M1103 2066A1100 1100 0 0 1 825 2378M1103 2066A1100 1100 0 0 1 905 2511M1103 2066A1100 1100 0 0 1 1274 2417M1103 2066A1100 1100 0 0 1 1506 1788M1103 2066A1100 1100 0 0 1 1273 2168M1103 2066A1100 1100 0 0 1 959 1913M1103 2066A1100 1100 0 0 1 1194 1814M825 2378A1100 1100 0 0 1 736 2059M825 2378A1100 1100 0 0 1 905 2511M825 2378A1100 1100 0 0 1 1274 2417M825 2378A1100 1100 0 0 1 881 1971M825 2378A1100 1100 0 0 1 727 2260M825 2378A1100 1100 0 0 1 774 2139"/>
<path d="M1506 1788A1100 1100 0 0 1 1694 1601M1506 1788A1100 1100 0 0 1 1530 2086M1506 1788A1100 1100 0 0 1 1133 1882M1506 1788A1100 1100 0 0 1 1274 2417M1506 1788A1100 1100 0 0 1 1553 1348M1274 2417A1100 1100 0 0 1 905 2511M1274 2417A1100 1100 0 0 1 1530 2086M1296 1092A1100 1100 0 0 1 989 975M1296 1092A1100 1100 0 0 1 1813 968M1296 1092A1100 1100 0 0 1 1694 1601"/>
</g>
<g class="eK">
<path d="M1273 2168A1100 1100 0 0 1 449 1332M1273 2168A1100 1100 0 0 1 286 1523M1273 2168A1100 1100 0 0 1 377 1523M1273 2168A1100 1100 0 0 1 357 1601M1273 2168A1100 1100 0 0 1 499 1597M1273 2168A1100 1100 0 0 1 266 1733M1273 2168A1100 1100 0 0 1 640 1728M1273 2168A1100 1100 0 0 1 740 1771M1273 2168A1100 1100 0 0 1 400 1849M1273 2168A1100 1100 0 0 1 612 2001M1273 2168A1100 1100 0 0 1 997 2001M1273 2168A1100 1100 0 0 1 625 2083M1273 2168A1100 1100 0 0 1 1386 1430M1273 2168A1100 1100 0 0 1 959 1913M1273 2168A1100 1100 0 0 1 1194 1814M1273 2168A1100 1100 0 0 1 774 2139M1273 2168A1100 1100 0 0 1 736 2059M1273 2168A1100 1100 0 0 1 1553 1348M1273 2168A1100 1100 0 0 1 1183 2333"/>
<path d="M400 1849A1100 1100 0 0 1 449 1332M400 1849A1100 1100 0 0 1 286 1523M400 1849A1100 1100 0 0 1 377 1523M400 1849A1100 1100 0 0 1 357 1601M400 1849A1100 1100 0 0 1 266 1733M400 1849A1100 1100 0 0 1 640 1728M400 1849A1100 1100 0 0 1 612 2001M400 1849A1100 1100 0 0 1 625 2083M400 1849A1100 1100 0 0 1 499 1597M449 1332A1100 1100 0 0 1 286 1523M449 1332A1100 1100 0 0 1 377 1523M449 1332A1100 1100 0 0 1 357 1601M449 1332A1100 1100 0 0 1 499 1597M449 1332A1100 1100 0 0 1 266 1733M449 1332A1100 1100 0 0 1 1386 1430M1386 1430A1100 1100 0 0 1 997 2001M1386 1430A1100 1100 0 0 1 640 1728M1386 1430A1100 1100 0 0 1 740 1771M1386 1430A1100 1100 0 0 1 1553 1348M1386 1430A1100 1100 0 0 1 995 1423M266 1733A1100 1100 0 0 1 377 1523M266 1733A1100 1100 0 0 1 612 2001M266 1733A1100 1100 0 0 1 625 2083"/>
</g>
</g>
<g id="nodes">
<g id="n-y5"><circle class="Y" cx="1129" cy="1397" r="75"/></g>
<g id="n-g36"><circle class="G" cx="1454" cy="1100" r="48"/></g>
<g id="n-y6"><circle class="Y" cx="1752" cy="1282" r="48"/></g>
<g id="n-n4"><circle class="N" cx="951" cy="1364" r="47"/></g>
<g id="n-b30"><circle class="B" cx="1556" cy="866" r="40"/></g>
<g id="n-g37"><circle class="G" cx="1847" cy="1115" r="40"/></g>
<g id="n-c18"><circle class="C" cx="857" cy="1390" r="40"/></g>
<g id="n-y17"><circle class="Y" cx="1256" cy="1930" r="40"/></g>
<g id="n-r18"><circle class="R" cx="2020" cy="1682" r="40"/></g>
<g id="n-p8"><circle class="P" cx="2646" cy="942" r="35"/></g>
<g id="n-k14"><circle class="K" cx="1386" cy="1430" r="35"/></g>
<g id="n-y7"><circle class="Y" cx="1269" cy="1535" r="33"/></g>
<g id="n-y15"><circle class="Y" cx="638" cy="1902" r="33"/></g>
<g id="n-b33"><circle class="B" cx="1793" cy="1188" r="30"/></g>
<g id="n-g25"><circle class="G" cx="1203" cy="782" r="30"/></g>
<g id="n-g41"><circle class="G" cx="1436" cy="1184" r="30"/></g>
<g id="n-g42"><circle class="G" cx="874" cy="1061" r="30"/></g>
<g id="n-y20"><circle class="Y" cx="1505" cy="2174" r="30"/></g>
<g id="n-r2"><circle class="R" cx="1453" cy="1286" r="30"/></g>
<g id="n-r12"><circle class="R" cx="1583" cy="1545" r="30"/></g>
<g id="n-o10"><circle class="O" cx="1299" cy="1785" r="30"/></g>
<g id="n-p16"><circle class="P" cx="2182" cy="1218" r="30"/></g>
<g id="n-n7"><circle class="N" cx="1694" cy="1601" r="30"/></g>
<g id="n-n10"><circle class="N" cx="1506" cy="1788" r="30"/></g>
<g id="n-b25"><circle class="B" cx="1515" cy="570" r="28"/></g>
<g id="n-p6"><circle class="P" cx="2406" cy="900" r="28"/></g>
<g id="n-b16"><circle class="B" cx="1318" cy="377" r="27"/></g>
<g id="n-b22"><circle class="B" cx="1666" cy="508" r="27"/></g>
<g id="n-g16"><circle class="G" cx="1977" cy="705" r="27"/></g>
<g id="n-g24"><circle class="G" cx="1660" cy="791" r="27"/></g>
<g id="n-g27"><circle class="G" cx="1723" cy="857" r="27"/></g>
<g id="n-g31"><circle class="G" cx="1131" cy="956" r="27"/></g>
<g id="n-g39"><circle class="G" cx="1235" cy="1135" r="27"/></g>
<g id="n-y8"><circle class="Y" cx="1480" cy="1526" r="27"/></g>
<g id="n-y9"><circle class="Y" cx="1099" cy="1552" r="27"/></g>
<g id="n-y10"><circle class="Y" cx="1176" cy="1618" r="27"/></g>
<g id="n-r3"><circle class="R" cx="1917" cy="1293" r="27"/></g>
<g id="n-r6"><circle class="R" cx="1727" cy="1371" r="27"/></g>
<g id="n-r20"><circle class="R" cx="1860" cy="1701" r="27"/></g>
<g id="n-r32"><circle class="R" cx="1608" cy="1836" r="27"/></g>
<g id="n-o2"><circle class="O" cx="2400" cy="1302" r="27"/></g>
<g id="n-o15"><circle class="O" cx="1221" cy="2115" r="27"/></g>
<g id="n-o16"><circle class="O" cx="2200" cy="2082" r="27"/></g>
<g id="n-o17"><circle class="O" cx="2290" cy="2143" r="27"/></g>
<g id="n-b18"><circle class="B" cx="1476" cy="426" r="26"/></g>
<g id="n-c12"><circle class="C" cx="454" cy="1112" r="25"/></g>
<g id="n-c17"><circle class="C" cx="708" cy="1370" r="25"/></g>
<g id="n-c22"><circle class="C" cx="936" cy="1572" r="25"/></g>
<g id="n-r8"><circle class="R" cx="1980" cy="1453" r="25"/></g>
<g id="n-r10"><circle class="R" cx="2309" cy="1286" r="25"/></g>
<g id="n-r33"><circle class="R" cx="1853" cy="1899" r="25"/></g>
<g id="n-o11"><circle class="O" cx="1703" cy="1843" r="25"/></g>
<g id="n-b26"><circle class="B" cx="1236" cy="719" r="24"/></g>
<g id="n-g19"><circle class="G" cx="1746" cy="667" r="24"/></g>
<g id="n-b10"><circle class="B" cx="1253" cy="291" r="23"/></g>
<g id="n-g32"><circle class="G" cx="1706" cy="949" r="23"/></g>
<g id="n-g34"><circle class="G" cx="1249" cy="1038" r="23"/></g>
<g id="n-g38"><circle class="G" cx="1939" cy="1105" r="23"/></g>
<g id="n-c23"><circle class="C" cx="1339" cy="1621" r="23"/></g>
<g id="n-y4"><circle class="Y" cx="1636" cy="1014" r="23"/></g>
<g id="n-y19"><circle class="Y" cx="1412" cy="2119" r="23"/></g>
<g id="n-r19"><circle class="R" cx="1780" cy="1673" r="23"/></g>
<g id="n-r22"><circle class="R" cx="1498" cy="1723" r="23"/></g>
<g id="n-r23"><circle class="R" cx="1553" cy="1708" r="23"/></g>
<g id="n-r43"><circle class="R" cx="1855" cy="2049" r="23"/></g>
<g id="n-r51"><circle class="R" cx="1486" cy="2326" r="23"/></g>
<g id="n-o12"><circle class="O" cx="1446" cy="1959" r="23"/></g>
<g id="n-o14"><circle class="O" cx="1473" cy="2043" r="23"/></g>
<g id="n-n2"><circle class="N" cx="1296" cy="1092" r="23"/></g>
<g id="n-n12"><circle class="N" cx="881" cy="1971" r="23"/></g>
<g id="n-k12"><circle class="K" cx="625" cy="2083" r="23"/></g>
<g id="n-b11"><circle class="B" cx="1059" cy="311" r="22"/></g>
<g id="n-p13"><circle class="P" cx="2646" cy="1170" r="21"/></g>
<g id="n-b15"><circle class="B" cx="1037" cy="423" r="20"/></g>
<g id="n-b34"><circle class="B" cx="1518" cy="1218" r="20"/></g>
<g id="n-g4"><circle class="G" cx="1726" cy="538" r="20"/></g>
<g id="n-g17"><circle class="G" cx="1543" cy="650" r="20"/></g>
<g id="n-g20"><circle class="G" cx="1286" cy="667" r="20"/></g>
<g id="n-g30"><circle class="G" cx="1470" cy="863" r="20"/></g>
<g id="n-g33"><circle class="G" cx="1534" cy="1007" r="20"/></g>
<g id="n-c2"><circle class="C" cx="620" cy="720" r="20"/></g>
<g id="n-c5"><circle class="C" cx="286" cy="820" r="20"/></g>
<g id="n-c7"><circle class="C" cx="233" cy="915" r="20"/></g>
<g id="n-c8"><circle class="C" cx="469" cy="980" r="20"/></g>
<g id="n-c13"><circle class="C" cx="414" cy="1166" r="20"/></g>
<g id="n-c20"><circle class="C" cx="844" cy="1477" r="20"/></g>
<g id="n-c24"><circle class="C" cx="951" cy="2294" r="20"/></g>
<g id="n-c25"><circle class="C" cx="1011" cy="2294" r="20"/></g>
<g id="n-y2"><circle class="Y" cx="698" cy="1289" r="20"/></g>
<g id="n-y3"><circle class="Y" cx="1106" cy="1047" r="20"/></g>
<g id="n-y11"><circle class="Y" cx="861" cy="1628" r="20"/></g>
<g id="n-y22"><circle class="Y" cx="851" cy="2207" r="20"/></g>
<g id="n-y25"><circle class="Y" cx="1330" cy="2322" r="20"/></g>
<g id="n-y26"><circle class="Y" cx="1044" cy="2443" r="20"/></g>
<g id="n-y28"><circle class="Y" cx="967" cy="2588" r="20"/></g>
<g id="n-r21"><circle class="R" cx="2102" cy="1700" r="20"/></g>
<g id="n-r24"><circle class="R" cx="1845" cy="1768" r="20"/></g>
<g id="n-r26"><circle class="R" cx="2282" cy="1611" r="20"/></g>
<g id="n-r27"><circle class="R" cx="2247" cy="1668" r="20"/></g>
<g id="n-r28"><circle class="R" cx="2182" cy="1765" r="20"/></g>
<g id="n-r30"><circle class="R" cx="1927" cy="1813" r="20"/></g>
<g id="n-r31"><circle class="R" cx="1920" cy="1847" r="20"/></g>
<g id="n-r34"><circle class="R" cx="2020" cy="1893" r="20"/></g>
<g id="n-r36"><circle class="R" cx="2244" cy="1903" r="20"/></g>
<g id="n-r37"><circle class="R" cx="2202" cy="1928" r="20"/></g>
<g id="n-r38"><circle class="R" cx="2499" cy="1893" r="20"/></g>
<g id="n-r42"><circle class="R" cx="2122" cy="2007" r="20"/></g>
<g id="n-r46"><circle class="R" cx="2247" cy="2035" r="20"/></g>
<g id="n-r47"><circle class="R" cx="2315" cy="2039" r="20"/></g>
<g id="n-r48"><circle class="R" cx="2471" cy="2080" r="20"/></g>
<g id="n-r49"><circle class="R" cx="2140" cy="2129" r="20"/></g>
<g id="n-r50"><circle class="R" cx="2274" cy="2235" r="20"/></g>
<g id="n-o6"><circle class="O" cx="2592" cy="1748" r="20"/></g>
<g id="n-o23"><circle class="O" cx="2073" cy="2374" r="20"/></g>
<g id="n-p2"><circle class="P" cx="2719" cy="699" r="20"/></g>
<g id="n-p5"><circle class="P" cx="2947" cy="854" r="20"/></g>
<g id="n-n8"><circle class="N" cx="883" cy="1758" r="20"/></g>
<g id="n-n9"><circle class="N" cx="941" cy="1782" r="20"/></g>
<g id="n-n11"><circle class="N" cx="837" cy="1872" r="20"/></g>
<g id="n-n13"><circle class="N" cx="1133" cy="1882" r="20"/></g>
<g id="n-n18"><circle class="N" cx="905" cy="2511" r="20"/></g>
<g id="n-k2"><circle class="K" cx="286" cy="1523" r="20"/></g>
<g id="n-k4"><circle class="K" cx="357" cy="1601" r="20"/></g>
<g id="n-k5"><circle class="K" cx="499" cy="1597" r="20"/></g>
<g id="n-k7"><circle class="K" cx="640" cy="1728" r="20"/></g>
<g id="n-k10"><circle class="K" cx="612" cy="2001" r="20"/></g>
<g id="n-b7"><circle class="B" cx="1410" cy="269" r="19"/></g>
<g id="n-b8"><circle class="B" cx="1520" cy="275" r="19"/></g>
<g id="n-b12"><circle class="B" cx="934" cy="341" r="19"/></g>
<g id="n-b23"><circle class="B" cx="1199" cy="534" r="19"/></g>
<g id="n-b27"><circle class="B" cx="2050" cy="758" r="19"/></g>
<g id="n-g3"><circle class="G" cx="1303" cy="452" r="19"/></g>
<g id="n-g6"><circle class="G" cx="1047" cy="549" r="19"/></g>
<g id="n-g8"><circle class="G" cx="975" cy="587" r="19"/></g>
<g id="n-g9"><circle class="G" cx="2088" cy="567" r="19"/></g>
<g id="n-g12"><circle class="G" cx="2100" cy="613" r="19"/></g>
<g id="n-g22"><circle class="G" cx="941" cy="772" r="19"/></g>
<g id="n-g29"><circle class="G" cx="991" cy="843" r="19"/></g>
<g id="n-c15"><circle class="C" cx="190" cy="1207" r="19"/></g>
<g id="n-b1"><circle class="B" cx="1692" cy="62" r="18"/></g>
<g id="n-b4"><circle class="B" cx="1344" cy="196" r="18"/></g>
<g id="n-b6"><circle class="B" cx="1743" cy="163" r="18"/></g>
<g id="n-b13"><circle class="B" cx="1113" cy="341" r="18"/></g>
<g id="n-b19"><circle class="B" cx="1582" cy="361" r="18"/></g>
<g id="n-b28"><circle class="B" cx="2299" cy="796" r="18"/></g>
<g id="n-b32"><circle class="B" cx="1685" cy="1109" r="17"/></g>
<g id="n-g1"><circle class="G" cx="1626" cy="289" r="18"/></g>
<g id="n-g14"><circle class="G" cx="1970" cy="619" r="18"/></g>
<g id="n-g43"><circle class="G" cx="2074" cy="1206" r="15"/></g>
<g id="n-y18"><circle class="Y" cx="1346" cy="2063" r="18"/></g>
<g id="n-r5"><circle class="R" cx="1846" cy="1348" r="18"/></g>
<g id="n-r14"><circle class="R" cx="1817" cy="1584" r="18"/></g>
<g id="n-r16"><circle class="R" cx="1416" cy="1610" r="18"/></g>
<g id="n-r17"><circle class="R" cx="2037" cy="1607" r="18"/></g>
<g id="n-r44"><circle class="R" cx="1923" cy="2066" r="18"/></g>
<g id="n-o3"><circle class="O" cx="2537" cy="1251" r="18"/></g>
<g id="n-o5"><circle class="O" cx="2496" cy="1713" r="18"/></g>
<g id="n-o18"><circle class="O" cx="1758" cy="2233" r="18"/></g>
<g id="n-o19"><circle class="O" cx="1873" cy="2233" r="18"/></g>
<g id="n-o24"><circle class="O" cx="1475" cy="2413" r="18"/></g>
<g id="n-p4"><circle class="P" cx="2926" cy="774" r="18"/></g>
<g id="n-p9"><circle class="P" cx="2848" cy="932" r="18"/></g>
<g id="n-p19"><circle class="P" cx="2730" cy="1365" r="18"/></g>
<g id="n-p20"><circle class="P" cx="2524" cy="1427" r="18"/></g>
<g id="n-p22"><circle class="P" cx="2609" cy="1540" r="18"/></g>
<g id="n-p23"><circle class="P" cx="2658" cy="1551" r="18"/></g>
<g id="n-p24"><circle class="P" cx="2609" cy="1583" r="18"/></g>
<g id="n-p25"><circle class="P" cx="2381" cy="1617" r="18"/></g>
<g id="n-p26"><circle class="P" cx="2678" cy="1666" r="18"/></g>
<g id="n-p29"><circle class="P" cx="2744" cy="1779" r="18"/></g>
<g id="n-n1"><circle class="N" cx="989" cy="975" r="18"/></g>

<g id="pipelines"><circle class="C" cx="1553" cy="1348" r="100"/><text x="1553" y="1373" font-size="82">pipelines</text></g>
<g id="maintenance"><circle class="B" cx="1340" cy="1026" r="68"/><text x="1333" y="1045" font-size="64">maintenance</text></g>
<g id="monte-carlo-methods"><circle class="Y" cx="959" cy="1913" r="50"/><text x="966" y="1932" font-size="59">monte carlo methods</text></g>
<g id="decision-making"><circle class="O" cx="995" cy="1423" r="50"/><text x="1002" y="1441" font-size="55">decision making</text></g>
<g id="water-pipelines"><circle class="O" cx="1680" cy="1748" r="50"/><text x="1676" y="1765" font-size="55">water pipelines</text></g>
<g id="risk-assessment"><circle class="Y" cx="1194" cy="1814" r="48"/><text x="1198" y="1829" font-size="51">risk assessment</text></g>
<g id="inspection"><circle class="P" cx="2066" cy="1074" r="46"/><text x="2072" y="1087" font-size="55">inspection</text></g>
<g id="internet-of-things"><circle class="R" cx="1743" cy="1479" r="45"/><text x="1750" y="1492" font-size="51">internet of things</text></g>
<g id="artificial-intelligence"><circle class="B" cx="1366" cy="869" r="40"/><text x="1370" y="897" font-size="51">artificial intelligence</text></g>
<g id="data-handling"><circle class="G" cx="1366" cy="808" r="40"/><text x="1366" y="820" font-size="48">data handling</text></g>
<g id="pipeline-corrosion"><circle class="K" cx="1273" cy="2168" r="40"/><text x="1266" y="2183" font-size="55">pipeline corrosion</text></g>
<g id="costs"><circle class="R" cx="1258" cy="1340" r="40"/><text x="1258" y="1355" font-size="50">costs</text></g>
<g id="intelligent-robots"><circle class="P" cx="2566" cy="934" r="40"/><text x="2569" y="938" font-size="52">intelligent robots</text></g>
<g id="oil-and-gas-pipelines"><circle class="P" cx="2072" cy="1298" r="40"/><text x="2076" y="1314" font-size="52">oil-and-gas pipelines</text></g>
<g id="gas-pipelines"><circle class="P" cx="1967" cy="1638" r="40"/><text x="1964" y="1650" font-size="52">gas pipelines</text></g>
<g id="pipeline-maintenance"><circle class="P" cx="2292" cy="1198" r="38"/><text x="2280" y="1210" font-size="48">pipeline maintenance</text></g>
<g id="petroleum-transportation"><circle class="R" cx="2030" cy="2077" r="35"/><text x="2020" y="2091" font-size="49">petroleum transportation</text></g>
<g id="anomaly-detection"><circle class="G" cx="1753" cy="754" r="33"/><text x="1753" y="767" font-size="45">anomaly detection</text></g>
<g id="deterioration"><circle class="C" cx="588" cy="1428" r="33"/><text x="588" y="1439" font-size="43">deterioration</text></g>
<g id="machine-design"><circle class="P" cx="2484" cy="708" r="32"/><text x="2472" y="722" font-size="48">machine design</text></g>
<g id="automation"><circle class="B" cx="1400" cy="419" r="30"/><text x="1398" y="433" font-size="45">automation</text></g>
<g id="robots"><circle class="B" cx="2010" cy="404" r="30"/><text x="2012" y="418" font-size="45">robots</text></g>
<g id="feature-extraction"><circle class="G" cx="1893" cy="535" r="30"/><text x="1893" y="549" font-size="45">feature extraction</text></g>
<g id="deep-learning"><circle class="G" cx="1660" cy="667" r="30"/><text x="1656" y="686" font-size="48">deep learning</text></g>
<g id="sewers"><circle class="C" cx="560" cy="754" r="30"/><text x="560" y="767" font-size="44">sewers</text></g>
<g id="pipeline-networks"><circle class="C" cx="793" cy="1064" r="30"/><text x="800" y="1076" font-size="45">pipeline networks</text></g>
<g id="condition-monitoring"><circle class="R" cx="1693" cy="1224" r="30"/><text x="1683" y="1238" font-size="48">condition monitoring</text></g>
<g id="petroleum-industry"><circle class="R" cx="1526" cy="1597" r="30"/><text x="1520" y="1611" font-size="48">petroleum industry</text></g>
<g id="gasoline"><circle class="R" cx="2372" cy="1955" r="30"/><text x="2372" y="1968" font-size="44">gasoline</text></g>
<g id="uncertainty-analysis"><circle class="Y" cx="1066" cy="1650" r="30"/><text x="1064" y="1661" font-size="45">uncertainty analysis</text></g>
<g id="risk-perception"><circle class="Y" cx="1183" cy="2333" r="30"/><text x="1186" y="2344" font-size="45">risk perception</text></g>
<g id="corrosion"><circle class="N" cx="1103" cy="2066" r="30"/><text x="1100" y="2080" font-size="48">corrosion</text></g>
<g id="leakage-fluid"><circle class="O" cx="2429" cy="1568" r="28"/><text x="2436" y="1580" font-size="45">leakage (fluid)</text></g>
<g id="predictive-maintenance"><circle class="G" cx="1620" cy="1145" r="27"/><text x="1623" y="1159" font-size="45">predictive maintenance</text></g>
<g id="decision-support-systems"><circle class="C" cx="577" cy="1587" r="27"/><text x="580" y="1599" font-size="45">decision support systems</text></g>
<g id="reliability-analysis"><circle class="Y" cx="774" cy="2139" r="27"/><text x="780" y="2151" font-size="45">reliability analysis</text></g>
<g id="building-information-modelling"><circle class="B" cx="1169" cy="288" r="25"/><text x="1180" y="301" font-size="45">building information modelling</text></g>
<g id="asset-management"><circle class="C" cx="627" cy="997" r="25"/><text x="626" y="1006" font-size="40">asset management</text></g>
<g id="robotics"><circle class="P" cx="2199" cy="942" r="25"/><text x="2200" y="954" font-size="45">robotics</text></g>
<g id="welds"><circle class="P" cx="2597" cy="1371" r="25"/><text x="2597" y="1379" font-size="42">welds</text></g>
<g id="monte-carlo-simulation"><circle class="Y" cx="1083" cy="2546" r="25"/><text x="1084" y="2552" font-size="45">monte carlo simulation</text></g>
<g id="accidents"><circle class="R" cx="2135" cy="1873" r="25"/><text x="2128" y="1882" font-size="40">accidents</text></g>
<g id="corrosion-rate"><circle class="N" cx="736" cy="2059" r="25"/><text x="734" y="2067" font-size="41">corrosion rate</text></g>
<g id="steel-corrosion"><circle class="N" cx="825" cy="2378" r="25"/><text x="820" y="2386" font-size="41">steel corrosion</text></g>
<g id="efficiency"><circle class="O" cx="2037" cy="1988" r="25"/><text x="2030" y="1996" font-size="40">efficiency</text></g>
<g id="algorithm"><circle class="C" cx="766" cy="771" r="24"/><text x="766" y="782" font-size="38">algorithm</text></g>
<g id="condition"><circle class="G" cx="1770" cy="1044" r="23"/><text x="1768" y="1057" font-size="45">condition</text></g>
<g id="stochastic-systems"><circle class="K" cx="449" cy="1332" r="23"/><text x="442" y="1340" font-size="40">stochastic systems</text></g>
<g id="failure-probability"><circle class="K" cx="400" cy="1849" r="23"/><text x="402" y="1859" font-size="41">failure probability</text></g>
<g id="corrosive-effects"><circle class="N" cx="1530" cy="2086" r="23"/><text x="1533" y="2099" font-size="45">corrosive effects</text></g>
<g id="artificial-neural-network"><circle class="N" cx="1274" cy="2417" r="23"/><text x="1272" y="2424" font-size="41">artificial neural network</text></g>
<g id="leak-detection"><circle class="O" cx="1980" cy="2247" r="23"/><text x="1976" y="2254" font-size="41">leak detection</text></g>
<g id="ultrasonic-applications"><circle class="P" cx="2770" cy="1660" r="22"/><text x="2769" y="1671" font-size="41">ultrasonic applications</text></g>
<g id="integration"><circle class="B" cx="1426" cy="590" r="20"/><text x="1426" y="601" font-size="38">integration</text></g>
<g id="tools"><circle class="R" cx="2361" cy="1385" r="20"/><text x="2361" y="1396" font-size="38">tools</text></g>
<g id="data-driven"><circle class="R" cx="1920" cy="1555" r="20"/><text x="1920" y="1559" font-size="38">data driven</text></g>
<g id="data-integration"><circle class="R" cx="1613" cy="1922" r="20"/><text x="1613" y="1933" font-size="38">data integration</text></g>
<g id="data"><circle class="N" cx="740" cy="1517" r="20"/><text x="740" y="1527" font-size="38">data</text></g>
<g id="bayesian-networks"><circle class="N" cx="967" cy="1503" r="20"/><text x="966" y="1513" font-size="38">bayesian networks</text></g>
<g id="failure-prediction-models"><circle class="K" cx="266" cy="1733" r="20"/><text x="264" y="1743" font-size="38">failure prediction models</text></g>
<g id="inspection-plans"><circle class="K" cx="740" cy="1771" r="20"/><text x="740" y="1781" font-size="38">inspection plans</text></g>
<g id="natural-gas-supply"><circle class="Y" cx="679" cy="1178" r="19"/><text x="680" y="1195" font-size="38">natural gas supply</text></g>
<g id="pitting"><circle class="Y" cx="727" cy="2260" r="20"/><text x="728" y="2271" font-size="38">pitting</text></g>
<g id="continuous-time-systems"><circle class="C" cx="510" cy="658" r="19"/><text x="510" y="670" font-size="38">continuous time systems</text></g>
<g id="performance-assessment"><circle class="C" cx="307" cy="875" r="20"/><text x="310" y="887" font-size="38">performance assessment</text></g>
<g id="decision-support-system"><circle class="C" cx="357" cy="1096" r="20"/><text x="354" y="1107" font-size="38">decision support system</text></g>
<g id="smart-city"><circle class="C" cx="1003" cy="1161" r="19"/><text x="1004" y="1171" font-size="38">smart city</text></g>
<g id="failure-analysis"><circle class="C" cx="292" cy="1210" r="19"/><text x="294" y="1219" font-size="38">failure analysis</text></g>
<g id="information-systems"><circle class="B" cx="1526" cy="89" r="18"/><text x="1528" y="100" font-size="38">information systems</text></g>
<g id="information-theory"><circle class="B" cx="1296" cy="151" r="18"/><text x="1293" y="163" font-size="38">information theory</text></g>
<g id="traction-friction"><circle class="B" cx="1698" cy="154" r="18"/><text x="1702" y="166" font-size="38">traction (friction)</text></g>
<g id="application-programs"><circle class="B" cx="944" cy="430" r="18"/><text x="943" y="441" font-size="38">application programs</text></g>
<g id="oil-and-gas-pipeline"><circle class="B" cx="1907" cy="311" r="18"/><text x="1903" y="322" font-size="38">oil and gas pipeline</text></g>
<g id="disasters"><circle class="B" cx="2151" cy="762" r="19"/><text x="2150" y="773" font-size="38">disasters</text></g>
<g id="transfer-learning"><circle class="G" cx="1726" cy="375" r="19"/><text x="1730" y="386" font-size="38">transfer learning</text></g>
<g id="engineering-research"><circle class="G" cx="1099" cy="567" r="19"/><text x="1101" y="576" font-size="38">engineering research</text></g>
<g id="power"><circle class="G" cx="2185" cy="538" r="19"/><text x="2183" y="549" font-size="38">power</text></g>
<g id="probes"><circle class="G" cx="2333" cy="558" r="19"/><text x="2333" y="569" font-size="38">probes</text></g>
<g id="signal-detection"><circle class="G" cx="2233" cy="640" r="19"/><text x="2233" y="651" font-size="38">signal detection</text></g>
<g id="data-fusion"><circle class="G" cx="1933" cy="650" r="18"/><text x="1930" y="658" font-size="38">data fusion</text></g>
<g id="automatic-identification"><circle class="G" cx="1027" cy="679" r="19"/><text x="1024" y="689" font-size="38">automatic identification</text></g>
<g id="gas-compressors"><circle class="G" cx="941" cy="857" r="19"/><text x="946" y="865" font-size="38">gas compressors</text></g>
<g id="losses"><circle class="N" cx="1813" cy="968" r="18"/><text x="1814" y="979" font-size="38">losses</text></g>
<g id="industrial-robots"><circle class="P" cx="2869" cy="785" r="18"/><text x="2869" y="796" font-size="38">industrial robots</text></g>
<g id="adsorption"><circle class="P" cx="2892" cy="908" r="18"/><text x="2886" y="913" font-size="38">adsorption</text></g>
<g id="ultrasonic-sensors"><circle class="P" cx="2889" cy="1220" r="18"/><text x="2892" y="1231" font-size="38">ultrasonic sensors</text></g>
<g id="pipeline-inspection-gauges"><circle class="P" cx="2848" cy="1513" r="18"/><text x="2844" y="1524" font-size="38">pipeline inspection gauges</text></g>
<g id="magnetic-flux-leakage"><circle class="P" cx="2779" cy="1739" r="18"/><text x="2779" y="1752" font-size="38">magnetic flux leakage</text></g>
<g id="control-system"><circle class="R" cx="2140" cy="1476" r="18"/><text x="2140" y="1485" font-size="38">control system</text></g>
<g id="cables"><circle class="R" cx="2212" cy="1592" r="18"/><text x="2212" y="1603" font-size="38">cables</text></g>
<g id="metadata"><circle class="R" cx="2007" cy="1799" r="18"/><text x="2008" y="1809" font-size="38">metadata</text></g>
<g id="energy-efficiency"><circle class="R" cx="1776" cy="1997" r="18"/><text x="1773" y="2008" font-size="38">energy efficiency</text></g>
<g id="transportation-system"><circle class="R" cx="1744" cy="2460" r="18"/><text x="1744" y="2467" font-size="38">transportation system</text></g>
<g id="repair"><circle class="O" cx="2230" cy="1806" r="18"/><text x="2230" y="1817" font-size="38">repair</text></g>
<g id="mapping"><circle class="O" cx="2606" cy="1867" r="18"/><text x="2606" y="1879" font-size="38">mapping</text></g>
<g id="acoustic-emission-testing"><circle class="O" cx="1900" cy="2315" r="18"/><text x="1900" y="2323" font-size="38">acoustic emission testing</text></g>
<g id="leakage"><circle class="O" cx="1983" cy="2385" r="18"/><text x="1980" y="2393" font-size="38">leakage</text></g>
<g id="risk"><circle class="K" cx="377" cy="1523" r="18"/><text x="378" y="1534" font-size="38">risk</text></g>
<g id="oil-industries"><circle class="K" cx="997" cy="2001" r="18"/><text x="996" y="2009" font-size="38">oil industries</text></g>
<g id="statistical-tests"><circle class="Y" cx="1071" cy="2638" r="18"/><text x="1074" y="2647" font-size="38">statistical tests</text></g>
<g id="cost-engineering"><circle class="Y" cx="1376" cy="1500" r="16"/><text x="1376" y="1511" font-size="38">cost engineering</text></g>
<g id="carbon-dioxide"><circle class="Y" cx="1044" cy="1728" r="16"/><text x="1044" y="1739" font-size="38">carbon dioxide</text></g>
</g>
</svg>
